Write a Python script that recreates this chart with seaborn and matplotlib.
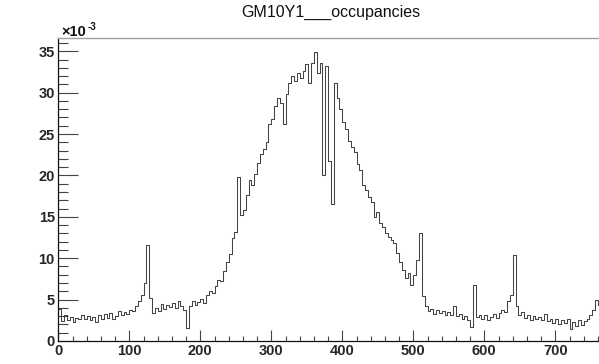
import numpy as np
import pandas as pd
import matplotlib
matplotlib.use("Agg")
import matplotlib.pyplot as plt
from matplotlib.ticker import MultipleLocator
import seaborn as sns

TITLE = "GM10Y1___occupancies"
BIN_WIDTH = 4
X_MAX = 768
# occupancy per 4-channel bin, in units of 1e-3
occupancy = [
    3.9, 2.4, 3.2, 2.5, 2.9, 2.3, 2.8, 2.6, 3.1, 2.7,
    3.0, 2.5, 2.9, 2.3, 3.2, 2.7, 3.3, 2.8, 3.4, 2.6,
    3.0, 3.6, 3.1, 3.5, 3.3, 3.8, 3.6, 4.2, 4.8, 5.6,
    7.0, 11.6, 5.2, 3.4, 4.0, 3.6, 4.5, 3.9, 4.4, 4.1,
    4.6, 4.0, 4.8, 4.2, 3.8, 1.6, 4.2, 4.8, 4.3, 4.7,
    5.1, 4.6, 5.6, 6.1, 5.8, 6.7, 7.4, 7.2, 8.4, 9.6,
    10.5, 12.4, 13.2, 19.8, 15.2, 15.8, 17.6, 19.4, 18.9, 20.2,
    21.5, 22.6, 23.2, 24.0, 26.2, 26.8, 28.4, 29.3, 28.8, 26.2,
    29.8, 31.2, 32.0, 31.4, 32.4, 31.8, 32.6, 33.4, 31.2, 33.6,
    34.9, 32.4, 33.6, 20.1, 33.2, 21.8, 16.6, 31.2, 29.4, 28.0,
    26.4, 25.6, 24.2, 23.4, 22.8, 21.4, 20.6, 18.8, 18.2, 17.4,
    16.8, 15.0, 15.6, 14.2, 13.8, 13.0, 12.6, 12.2, 11.8, 10.6,
    9.6, 8.6, 7.6, 8.2, 6.8, 8.0, 9.8, 13.1, 5.4, 4.2,
    3.6, 3.9, 3.3, 3.7, 3.4, 3.6, 3.1, 3.5, 3.2, 4.2,
    3.0, 3.3, 2.6, 3.0, 2.5, 1.7, 6.8, 2.9, 3.2, 2.6,
    3.1, 2.5, 2.9, 3.3, 2.8, 3.4, 3.7, 3.5, 4.8, 5.6,
    10.4, 4.2, 3.2, 3.5, 2.8, 3.1, 2.5, 3.0, 2.6, 2.9,
    2.5, 3.3, 2.4, 2.7, 2.2, 2.6, 2.0, 2.5, 2.2, 2.7,
    1.4, 2.3, 1.8, 2.5, 1.9, 2.4, 2.7, 3.1, 3.8, 5.0,
    4.4, 4.6,
]
Y_MAX = 36.6

n_bins = len(occupancy)
df = pd.DataFrame({"channel": np.arange(n_bins) * BIN_WIDTH + BIN_WIDTH / 2,
                   "occ": occupancy})

sns.set_style("ticks")
plt.rcParams["font.family"] = ["Liberation Sans", "DejaVu Sans"]

W, H = 599, 364
fig = plt.figure(figsize=(W / 100, H / 100), dpi=100)
x0, x1 = 58.3, 58.3 + 0.71 * X_MAX
y_top, y_bot = 38, 341
ax = fig.add_axes([x0 / W, (H - y_bot) / H, (x1 - x0) / W, (y_bot - y_top) / H])

sns.histplot(data=df, x="channel", weights="occ", binwidth=BIN_WIDTH,
             binrange=(0, X_MAX), element="step", fill=False,
             color="#444444", linewidth=0.75, ax=ax)

ax.set_xlim(0, X_MAX)
ax.set_ylim(0, Y_MAX)
ax.set_xlabel("")
ax.set_ylabel("")

ax.xaxis.set_major_locator(MultipleLocator(100))
ax.xaxis.set_minor_locator(MultipleLocator(20))
ax.yaxis.set_major_locator(MultipleLocator(5))
ax.yaxis.set_minor_locator(MultipleLocator(1))

ax.tick_params(axis="y", which="major", direction="in", length=14.4, width=0.8,
               color="#444444", pad=2.5, labelsize=10.5)
ax.tick_params(axis="y", which="minor", direction="in", length=7.2, width=0.8, color="#444444")
ax.tick_params(axis="x", which="major", direction="in", length=7.9, width=0.8,
               color="#444444", pad=2.5, labelsize=10.5)
ax.tick_params(axis="x", which="minor", direction="in", length=3.6, width=0.8, color="#444444")
for lab in ax.get_xticklabels() + ax.get_yticklabels():
    lab.set_fontweight("bold")

for s in ["left", "bottom"]:
    ax.spines[s].set_color("#111111")
    ax.spines[s].set_linewidth(0.9)
ax.spines["top"].set_visible(True)
ax.spines["top"].set_color("#a0a0a0")
ax.spines["top"].set_linewidth(1.0)
ax.spines["right"].set_visible(False)

fig.text(330.5 / W, 1 - 12.5 / H, TITLE, ha="center", va="center", fontsize=11.5, color="#111111")
fig.text(61 / W, 1 - 31.5 / H, "\u00d710", ha="left", va="center", fontsize=10.5,
         fontweight="bold", color="#111111")
fig.text(87.5 / W, 1 - 26.5 / H, "-3", ha="left", va="center", fontsize=7,
         fontweight="bold", color="#111111")

fig.savefig("out.png", dpi=100)
